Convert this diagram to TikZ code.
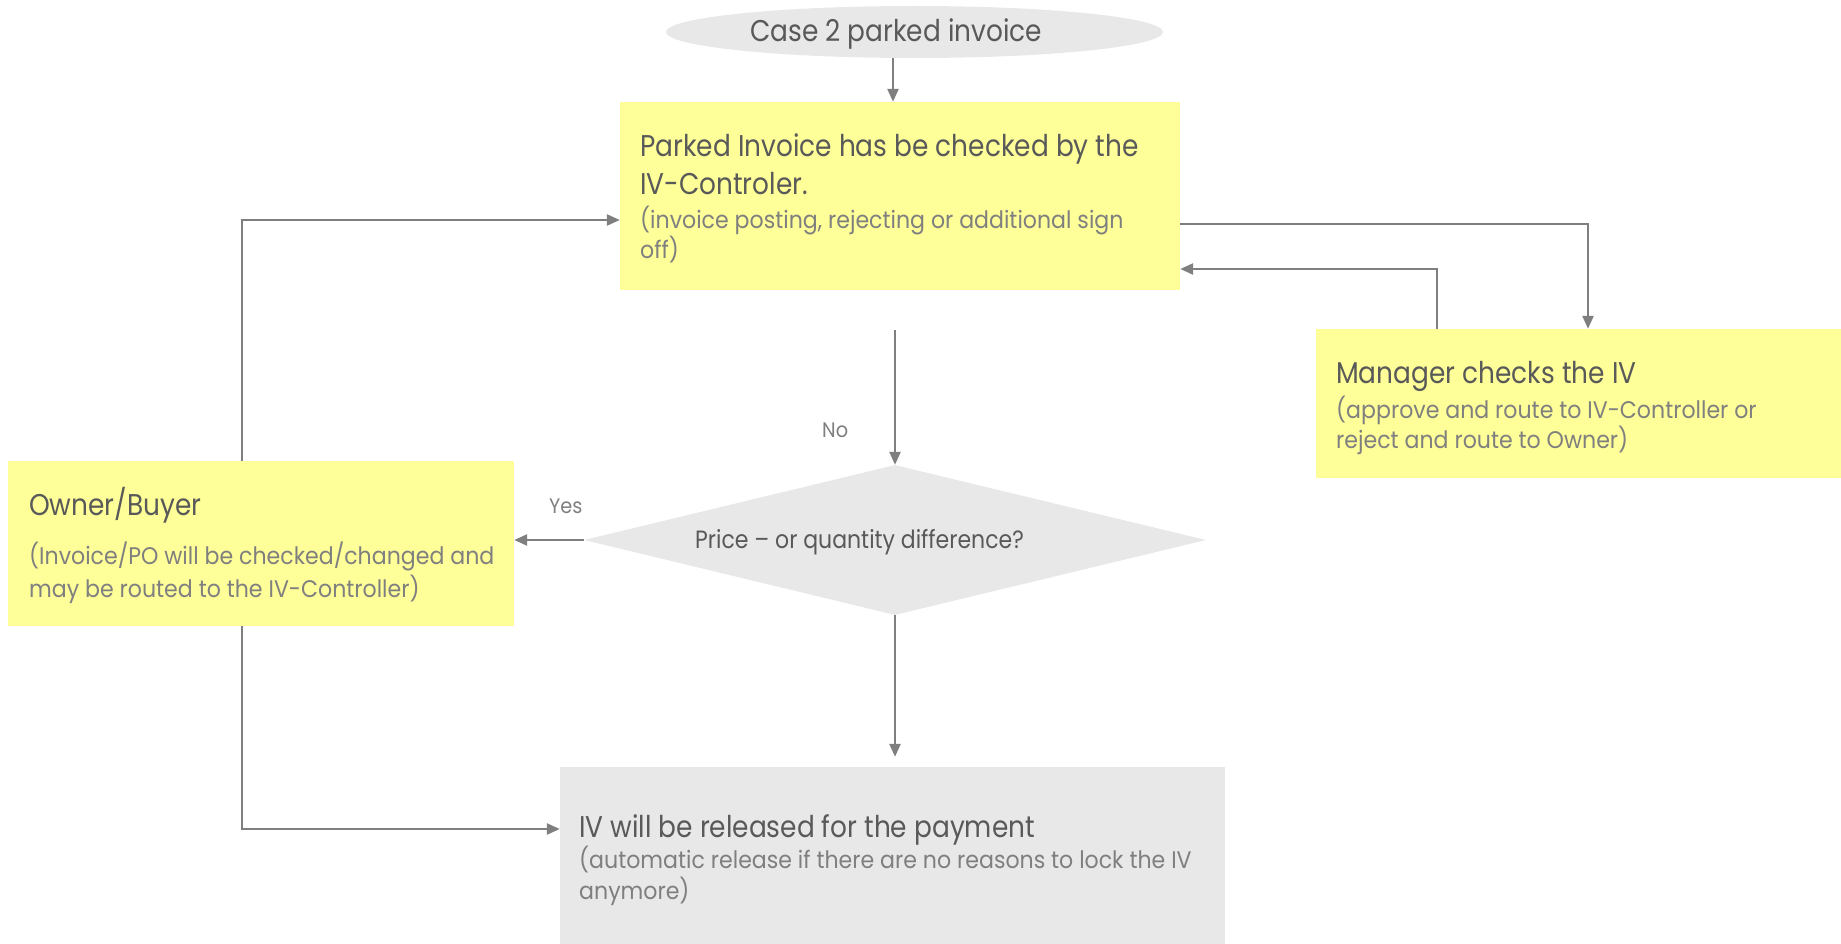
\documentclass[tikz,border=0pt]{standalone}
\usepackage{fontspec}
\setmainfont{Poppins}
\newfontfamily\headfont{Poppins}[FakeStretch=0.88]
\newfontfamily\subfont{Poppins}[FakeStretch=0.92]
\usetikzlibrary{shapes.geometric,arrows.meta,calc}
\definecolor{boxyellow}{HTML}{FFFF99}
\definecolor{boxgrey}{HTML}{E8E8E8}
\definecolor{txtdark}{HTML}{595959}
\definecolor{txtlight}{HTML}{7F7F7F}
\definecolor{linegrey}{HTML}{7F7F7F}
\tikzset{
  ybox/.style={rectangle, fill=boxyellow, draw=none, inner sep=0pt},
  gbox/.style={rectangle, fill=boxgrey, draw=none, inner sep=0pt},
  head/.style={anchor=base west, inner sep=0pt, text=txtdark, font=\headfont\fontsize{30}{36}\selectfont},
  sub/.style={anchor=base west, inner sep=0pt, text=txtlight, font=\subfont\fontsize{24}{28}\selectfont},
  lbl/.style={anchor=base west, inner sep=0pt, text=txtlight, font=\subfont\fontsize{21}{24}\selectfont},
  dtxt/.style={anchor=base west, inner sep=0pt, text=txtdark, font=\headfont\fontsize{25}{29}\selectfont},
  conn/.style={draw=linegrey, line width=2.4pt, -{Triangle[length=13pt,width=11pt]}},
}
\begin{document}
\begin{tikzpicture}[x=1pt,y=-1pt]
\useasboundingbox (0,0) rectangle (1841,944);
% shapes
\node[ellipse, fill=boxgrey, minimum width=497pt, minimum height=52pt, inner sep=0pt] (start) at (914.5,32) {};
\node[ybox, minimum width=560pt, minimum height=188pt] (box1) at (900,196) {};
\node[ybox, minimum width=506pt, minimum height=165pt] (owner) at (261,543.5) {};
\node[ybox, minimum width=525pt, minimum height=149pt] (manager) at (1578.5,403.5) {};
\node[gbox, minimum width=665pt, minimum height=177pt] (release) at (892.5,855.5) {};
\node[diamond, fill=boxgrey, inner sep=0pt, shape aspect=4.147, minimum width=622pt, minimum height=150pt] (dia) at (895,540) {};
% texts
\node[head] (tstart) at (750,42) {Case 2 parked invoice};
\node[head] (tb1a) at (640,157) {Parked Invoice has be checked by the};
\node[head] (tb1b) at (640,195) {IV-Controler.};
\node[sub] (tb1c) at (640,228) {(invoice posting, rejecting or additional sign};
\node[sub] (tb1d) at (640,258) {off)};
\node[head] (tow1) at (29,515) {Owner/Buyer};
\node[sub] (tow2) at (29,564) {(Invoice/PO will be checked/changed and};
\node[sub] (tow3) at (29,597) {may be routed to the IV-Controller)};
\node[head] (tma1) at (1336,383) {Manager checks the IV};
\node[sub] (tma2) at (1336,418) {(approve and route to IV-Controller or};
\node[sub] (tma3) at (1336,448) {reject and route to Owner)};
\node[head] (tre1) at (579,837) {IV will be released for the payment};
\node[sub] (tre2) at (579,868) {(automatic release if there are no reasons to lock the IV};
\node[sub] (tre3) at (579,899) {anymore)};
\node[dtxt] (tdia) at (695,548) {Price – or quantity difference?};
\node[lbl] (tno) at (822,437) {No};
\node[lbl] (tyes) at (549,513) {Yes};
% helper coordinates
\coordinate (colx) at (893,0);
\coordinate (lx) at (242,0);
\coordinate (nofrom) at (895,330);
% connectors
\draw[conn] (start.south -| colx) -- (box1.north -| colx);
\draw[conn] (nofrom) -- (dia.north);
\draw[conn] (dia.west) -- (owner.east |- dia.west);
\draw[conn, shorten >=10pt] (dia.south) -- (dia.south |- release.north);
\draw[conn] (owner.north -| lx) |- ([yshift=-24pt]box1.west);
\draw[conn] (owner.south -| lx) |- ([yshift=26.5pt]release.west);
\draw[conn] ([yshift=-28pt]box1.east) -| ([xshift=9.5pt]manager.north);
\draw[conn] ([xshift=-141.5pt]manager.north) |- ([yshift=-73pt]box1.east);
\end{tikzpicture}
\end{document}
